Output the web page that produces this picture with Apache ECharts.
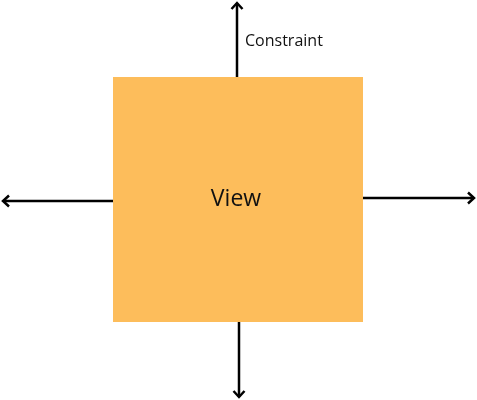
<!DOCTYPE html>
<html>
<head>
    <meta charset="utf-8">
    <title>View constraints</title>
    <script src="https://cdn.jsdelivr.net/npm/echarts@6/dist/echarts.min.js"></script>
    <style>
        html, body { margin: 0; padding: 0; background: #fff; }
    </style>
</head>
<body>
    <div id="container" style="width: 477px;height:400px;"></div>
    <script type="text/javascript">
        // box of the view: [x1, y1, x2, y2] in canvas units
        var viewBox = [[113, 77, 363, 322]];
        var viewLabel = 'View';
        // arrows: [fromX, fromY, toX, toY]
        var arrows = [
            [237, 77, 237, 2],
            [239, 322, 239, 398],
            [113, 201, 2, 201],
            [363, 198, 475, 198]
        ];
        // annotation text: [x, y, text]
        var notes = [[245, 41, 'Constraint']];

        var myChart = echarts.init(document.getElementById('container'));

        var option = {
            animation: false,
            grid: { left: 0, right: 0, top: 0, bottom: 0 },
            xAxis: { type: 'value', min: 0, max: 477, show: false },
            yAxis: { type: 'value', min: 0, max: 400, inverse: true, show: false },
            series: [
                {
                    type: 'custom',
                    coordinateSystem: 'cartesian2d',
                    encode: { x: [0, 2], y: [1, 3] },
                    data: viewBox,
                    renderItem: function (params, api) {
                        var a = api.coord([api.value(0), api.value(1)]);
                        var b = api.coord([api.value(2), api.value(3)]);
                        return {
                            type: 'group',
                            children: [
                                {
                                    type: 'rect',
                                    shape: { x: a[0], y: a[1], width: b[0] - a[0], height: b[1] - a[1] },
                                    style: { fill: '#FDBD5B' }
                                },
                                {
                                    type: 'text',
                                    style: {
                                        text: viewLabel,
                                        x: (a[0] + b[0]) / 2 - 2,
                                        y: (a[1] + b[1]) / 2,
                                        align: 'center',
                                        verticalAlign: 'middle',
                                        fontFamily: 'Open Sans',
                                        fontSize: 23,
                                        fill: '#111'
                                    }
                                }
                            ]
                        };
                    }
                },
                {
                    type: 'custom',
                    coordinateSystem: 'cartesian2d',
                    encode: { x: [0, 2], y: [1, 3] },
                    data: arrows,
                    renderItem: function (params, api) {
                        var p1 = api.coord([api.value(0), api.value(1)]);
                        var p2 = api.coord([api.value(2), api.value(3)]);
                        var dx = p2[0] - p1[0], dy = p2[1] - p1[1];
                        var len = Math.sqrt(dx * dx + dy * dy);
                        var ux = dx / len, uy = dy / len;
                        var px = -uy, py = ux;
                        var back = 7, side = 5.5;
                        return {
                            type: 'group',
                            children: [
                                {
                                    type: 'line',
                                    shape: { x1: p1[0], y1: p1[1], x2: p2[0] - ux, y2: p2[1] - uy },
                                    style: { stroke: '#000', lineWidth: 2.5 }
                                },
                                {
                                    type: 'polyline',
                                    shape: {
                                        points: [
                                            [p2[0] - ux * back + px * side, p2[1] - uy * back + py * side],
                                            [p2[0] - ux, p2[1] - uy],
                                            [p2[0] - ux * back - px * side, p2[1] - uy * back - py * side]
                                        ]
                                    },
                                    style: { stroke: '#000', lineWidth: 2.5, fill: null, lineJoin: 'miter' }
                                }
                            ]
                        };
                    }
                },
                {
                    type: 'custom',
                    coordinateSystem: 'cartesian2d',
                    encode: { x: 0, y: 1 },
                    data: notes,
                    renderItem: function (params, api) {
                        var p = api.coord([api.value(0), api.value(1)]);
                        return {
                            type: 'text',
                            style: {
                                text: notes[params.dataIndex][2],
                                x: p[0],
                                y: p[1],
                                align: 'left',
                                verticalAlign: 'middle',
                                fontFamily: 'Open Sans',
                                fontSize: 16,
                                fill: '#111'
                            }
                        };
                    }
                }
            ]
        };

        myChart.setOption(option);
    </script>
</body>
</html>
